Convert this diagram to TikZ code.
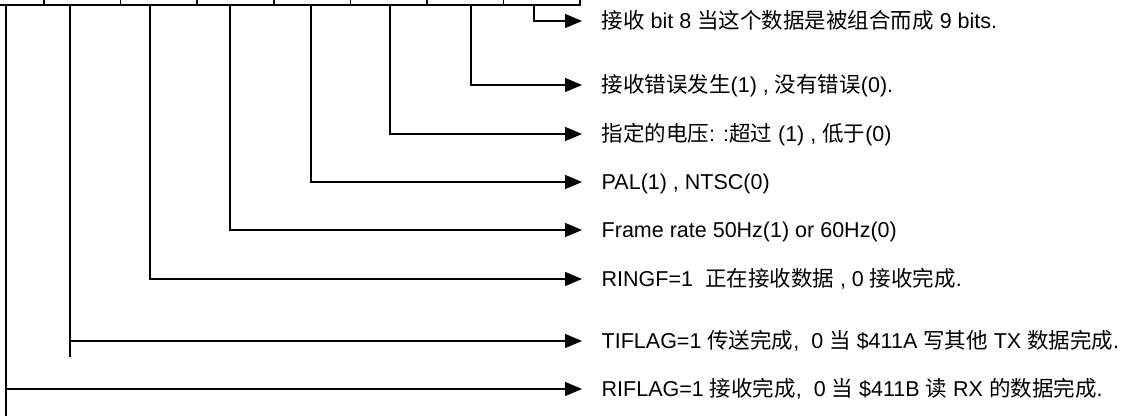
\documentclass[tikz,border=0pt]{standalone}
\usepackage{fontspec}
\setmainfont{Liberation Sans}
\newfontfamily\cjk{Noto Sans CJK SC}
\newcommand{\zh}[1]{{\cjk #1}}
\usepackage{tikz}
\usetikzlibrary{arrows.meta,positioning}
\def\mauduong{black}
\def\mauchu{black}

\begin{document}
\begin{tikzpicture}[x=1pt,y=-1pt,line width=1.4pt,font=\fontsize{21.5}{25}\selectfont,text=\mauchu,
	o/.style={draw=\mauduong,line width=1.6pt,rectangle,minimum width=76.6pt,minimum height=60pt,inner sep=0pt,outer sep=0pt,anchor=south west},
	nhan/.style={anchor=west,inner xsep=19pt,inner ysep=0pt,text height=14pt,text depth=0pt},
	mui/.style={draw=\mauduong,-{Triangle[length=17pt,width=14pt]}}]
	\useasboundingbox (0,0) rectangle (1121,415);
	\clip (0,0) rectangle (1121,415);
	%%Vẽ thanh ghi 8 bit (phần trên bị cắt)
	\node[o] (o-7) at (-32.6,5) {};
	\foreach \i [evaluate=\i as \j using int(\i+1)] in {6,...,0}{%
		\node[o,right=0pt of o-\j] (o-\i) {};
	}
	%%Điểm lấy ra của từng bit
	\foreach \i/\dx in {7/38.6,6/26,5/29.4,4/32.8,3/37.2,2/39.6,1/44,0/30.4}{%
		\path (o-\i.south west) ++(\dx,0) coordinate (t-\i);
	}
	%%Các dòng chú thích
	\foreach \i/\y/\t in {%
		0/21/{\zh{接收} bit 8 \zh{当这个数据是被组合而成} 9 bits.},
		1/85/{\zh{接收错误发生}(1) , \zh{没有错误}(0).},
		2/134/{\zh{指定的电压}: :\zh{超过} (1) , \zh{低于}(0)},
		3/182/{PAL(1) , NTSC(0)},
		4/230/{Frame rate 50Hz(1) or 60Hz(0)},
		5/279/{RINGF=1 \ \zh{正在接收数据} , 0 \zh{接收完成}.},
		6/341/{TIFLAG=1 \zh{传送完成}, \ 0 \zh{当} \$411A \zh{写其他} TX \zh{数据完成}.},
		7/389/{RIFLAG=1 \zh{接收完成}, \ 0 \zh{当} \$411B \zh{读} RX \zh{的数据完成}.}%
	}{%
		\node[nhan] (nhan-\i) at (582,\y) {\t};
	}
	%%Vẽ đường nối
	\foreach \i in {0,...,5}{%
		\draw[mui] (t-\i) |- (nhan-\i.west);
	}
	\draw[draw=\mauduong] (t-6) -- ++(0,352);
	\draw[mui] (t-6 |- nhan-6.west) -- (nhan-6.west);
	\draw[draw=\mauduong] (t-7) -- ++(0,415);
	\draw[mui] (t-7 |- nhan-7.west) -- (nhan-7.west);
\end{tikzpicture}
\end{document}
